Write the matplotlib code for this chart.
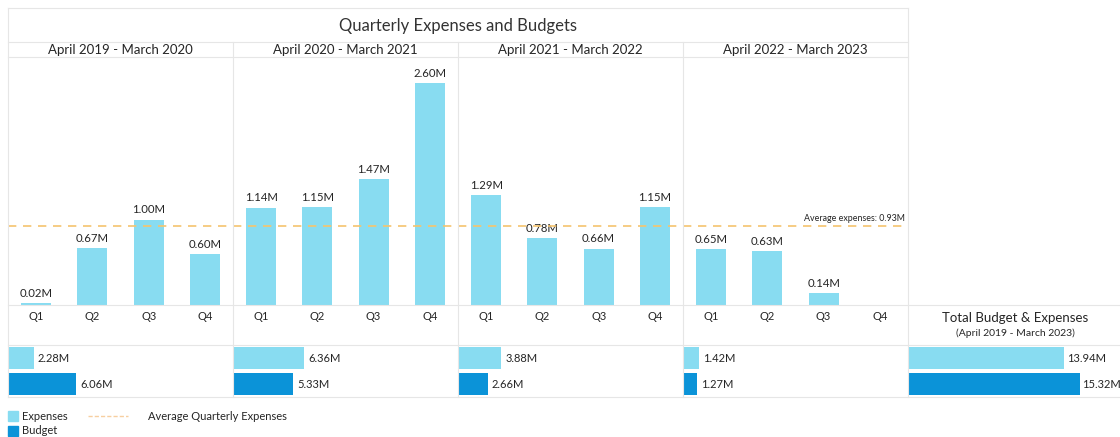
import numpy as np
import matplotlib.pyplot as plt
from matplotlib.lines import Line2D
from matplotlib.patches import Rectangle

# ---- data ----
periods = ["April 2019 - March 2020", "April 2020 - March 2021",
           "April 2021 - March 2022", "April 2022 - March 2023"]
quarters = ["Q1", "Q2", "Q3", "Q4"]
exp_fy19 = [0.02, 0.67, 1.00, 0.60]
exp_fy20 = [1.14, 1.15, 1.47, 2.60]
exp_fy21 = [1.29, 0.78, 0.66, 1.15]
exp_fy22 = [0.65, 0.63, 0.14, np.nan]
annual_expenses = [2.28, 6.36, 3.88, 1.42]
annual_budget = [6.06, 5.33, 2.66, 1.27]
total_expenses = 13.94
total_budget = 15.32
avg_quarterly = 0.93

quarterly = [exp_fy19, exp_fy20, exp_fy21, exp_fy22]

# ---- style ----
plt.rcParams["font.family"] = ["Lato", "DejaVu Sans"]
C_EXP = "#88dcf1"
C_BUD = "#0b93d8"
C_AVG = "#f5c46e"
C_GRID = "#e6e6e6"
C_TXT = "#252525"

W, H = 1120, 437
fig = plt.figure(figsize=(W / 100, H / 100), dpi=100)


def box(x0, y0, x1, y1):
    # pixel box (top-left origin) -> axes
    ax = fig.add_axes([x0 / W, 1 - y1 / H, (x1 - x0) / W, (y1 - y0) / H])
    ax.patch.set_alpha(0)
    for s in ax.spines.values():
        s.set_visible(False)
    return ax


def hline(y, x0, x1):
    fig.add_artist(Line2D([x0 / W, x1 / W], [1 - y / H, 1 - y / H],
                          color=C_GRID, lw=0.8, transform=fig.transFigure))


def vline(x, y0, y1):
    fig.add_artist(Line2D([x / W, x / W], [1 - y0 / H, 1 - y1 / H],
                          color=C_GRID, lw=0.8, transform=fig.transFigure))


def ftext(x, y, s, **kw):
    kw.setdefault("color", C_TXT)
    fig.text(x / W, 1 - y / H, s, **kw)


# layout in pixels
left, right_main, right_all = 8, 908, 1120
panel_w = (right_main - left) / 4
top, title_b, head_b, base_y, qrow_b, bars_b = 8, 42, 57, 305, 345, 397
px_per_m_v = 85.4
px_per_m_h = 11.2
ymax = (base_y - head_b) / px_per_m_v

# grid / borders
for y in (top, title_b, head_b):
    hline(y, left, right_main)
for y in (base_y, qrow_b, bars_b):
    hline(y, left, right_all)
vline(left, top, bars_b)
vline(right_main, top, bars_b)
for i in range(1, 4):
    vline(left + panel_w * i, title_b, bars_b)

ftext((left + right_main) / 2, (top + title_b) / 2 + 1, "Quarterly Expenses and Budgets",
      fontsize=12, ha="center", va="center", color="#333333")

# quarterly column panels
x_pos = np.arange(4)
for i, vals in enumerate(quarterly):
    x0 = left + panel_w * i
    ftext(x0 + panel_w / 2, (title_b + head_b) / 2 + 1, periods[i],
          fontsize=9.5, ha="center", va="center")
    ax = box(x0, head_b, x0 + panel_w, base_y)
    v = np.array(vals, dtype=float)
    ax.bar(x_pos, np.nan_to_num(v), width=0.53, color=C_EXP)
    for x, val in zip(x_pos, v):
        if not np.isnan(val):
            ax.annotate(f"{val:.2f}M", (x, val), xytext=(0, 3), textcoords="offset points",
                        ha="center", va="bottom", fontsize=8.2, color=C_TXT)
    ax.set_xlim(-0.5, 3.5)
    ax.set_ylim(0, ymax)
    ax.set_yticks([])
    ax.set_xticks(x_pos)
    ax.set_xticklabels(quarters, fontsize=8, color=C_TXT)
    ax.tick_params(axis="x", length=0, pad=4)

    # annual totals (expenses / budget)
    hx = box(x0, qrow_b, x0 + panel_w, bars_b)
    hx.barh([0, 1], [annual_expenses[i], annual_budget[i]], height=0.85,
            color=[C_EXP, C_BUD])
    for yy, val in zip([0, 1], [annual_expenses[i], annual_budget[i]]):
        hx.annotate(f"{val:.2f}M", (val, yy), xytext=(3, 0), textcoords="offset points",
                    ha="left", va="center", fontsize=8, color=C_TXT)
    hx.set_xlim(0, panel_w / px_per_m_h)
    hx.set_ylim(1.5, -0.5)
    hx.set_xticks([])
    hx.set_yticks([])

# average line across all periods
avg_ax = box(left, head_b, right_main, base_y)
avg_ax.set_ylim(0, ymax)
avg_ax.set_xlim(0, 1)
avg_ax.axhline(avg_quarterly, color=C_AVG, lw=1.2, dashes=(5, 4))
avg_ax.annotate(f"Average expenses: {avg_quarterly:.2f}M", (0.997, avg_quarterly),
                xytext=(0, 2), textcoords="offset points",
                ha="right", va="bottom", fontsize=6.4, color=C_TXT)
avg_ax.set_xticks([])
avg_ax.set_yticks([])

# overall totals
tc = (right_main + right_all) / 2 + 1
ftext(tc, 318, "Total Budget & Expenses", fontsize=9.5, ha="center", va="center")
ftext(tc, 333, "(April 2019 - March 2023)", fontsize=7.5, ha="center", va="center")
tx = box(right_main, qrow_b, right_all, bars_b)
tx.barh([0, 1], [total_expenses, total_budget], height=0.85, color=[C_EXP, C_BUD])
for yy, val in zip([0, 1], [total_expenses, total_budget]):
    tx.annotate(f"{val:.2f}M", (val, yy), xytext=(2, 0), textcoords="offset points",
                ha="left", va="center", fontsize=8, color=C_TXT)
tx.set_xlim(0, (right_all - right_main) / px_per_m_h)
tx.set_ylim(1.5, -0.5)
tx.set_xticks([])
tx.set_yticks([])

# legend
for y, c, lab in ((411, C_EXP, "Expenses"), (426, C_BUD, "Budget")):
    fig.add_artist(Rectangle((8 / W, 1 - (y + 10) / H), 10 / W, 10 / H,
                             color=c, transform=fig.transFigure))
    ftext(22, y + 5, lab, fontsize=8, va="center")
fig.add_artist(Line2D([88 / W, 128 / W], [1 - 416 / H, 1 - 416 / H], color="#f7cfa0",
                      lw=1.0, dashes=(3, 1.5), transform=fig.transFigure))
ftext(148, 416, "Average Quarterly Expenses", fontsize=8, va="center")

fig.savefig("out.png", dpi=100)
